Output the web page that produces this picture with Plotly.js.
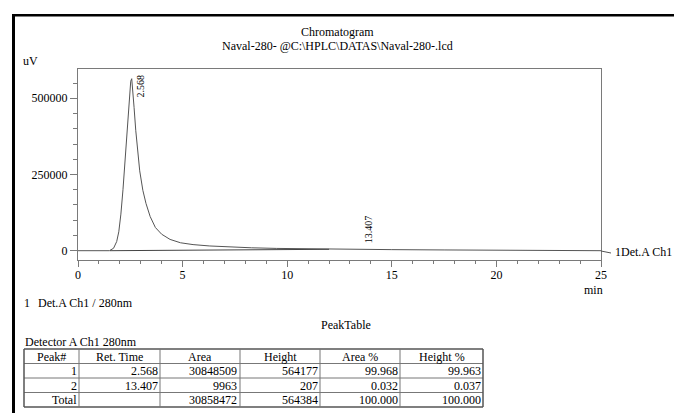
<!DOCTYPE html>
<html>
<head>
<meta charset="utf-8">
<script src="https://cdn.plot.ly/plotly-3.0.1.min.js"></script>
<style>
html,body{margin:0;padding:0;background:#fff;}
#chart{width:674px;height:413px;}
</style>
</head>
<body>
<div id="chart"></div>
<script>
// ---- data ----
const timeMin = [0, 1.0, 1.5, 1.7, 1.85, 1.95, 2.05, 2.15, 2.25, 2.35, 2.45, 2.52, 2.568, 2.62, 2.68, 2.76, 2.85, 2.95, 3.1, 3.25, 3.45, 3.7, 4.0, 4.4, 4.9, 5.5, 6.3, 7.2, 8.3, 9.5, 11.0, 12.5, 13.2, 13.407, 13.6, 15, 17.5, 20, 22.5, 25];
const signalUV = [0, 0, 0, 8000, 30000, 62000, 120000, 200000, 298000, 405000, 510000, 556000, 564177, 530000, 470000, 395000, 325000, 262000, 198000, 155000, 112000, 76000, 54000, 37000, 26000, 20000, 15500, 12000, 9500, 7500, 6000, 4800, 4400, 4600, 4350, 3500, 2500, 1500, 700, 0];
const baselineTime = [1.53, 12.0];
const baselineUV = [0, 4600];
const peakTimes = [2.568, 13.407];
const peakHeightsUV = [564177, 4600];
const peakLabels = ["2.568", "13.407"];

// ---- peak table ----
const tableHeader = ["Peak#", "Ret. Time", "Area", "Height", "Area %", "Height %"];
const colPeak = ["1", "2", "Total"];
const colRetTime = ["2.568", "13.407", ""];
const colArea = ["30848509", "9963", "30858472"];
const colHeight = ["564177", "207", "564384"];
const colAreaPct = ["99.968", "0.032", "100.000"];
const colHeightPct = ["99.963", "0.037", "100.000"];

const W = 674, H = 413;
const px = x => x / W;
const py = y => (H - y) / H;
const FONT = "Liberation Serif";
const AX = "#7a7a7a";

const traces = [
  {
    type: "scatter", mode: "lines", x: timeMin, y: signalUV,
    line: {color: "#555", width: 1}, hoverinfo: "skip", showlegend: false
  },
  {
    type: "scatter", mode: "lines", x: baselineTime, y: baselineUV,
    line: {color: "#444", width: 1}, hoverinfo: "skip", showlegend: false
  }
];

const ann = (text, x, y, xa, extra) => Object.assign({
  text: text, xref: "paper", yref: "paper", x: px(x), y: py(y),
  xanchor: xa || "center", yanchor: "middle", showarrow: false,
  font: {family: FONT, size: 12, color: "#000"}
}, extra || {});

const annotations = [
  ann("Chromatogram", 337, 32),
  ann("Naval-280- @C:\\HPLC\\DATAS\\Naval-280-.lcd", 337, 46),
  ann("uV", 21, 61, "left"),
  ann("min", 593, 290),
  ann("1Det.A Ch1", 613, 252, "left"),
  ann("1", 22, 303, "left"),
  ann("Det.A Ch1 / 280nm", 36, 303, "left"),
  ann("PeakTable", 346, 325),
  ann("Detector A Ch1 280nm", 23, 342, "left")
];
peakLabels.forEach((lab, i) => {
  annotations.push({
    text: lab, x: peakTimes[i], y: peakHeightsUV[i], xref: "x", yref: "y",
    textangle: -90, showarrow: false,
    xanchor: "left", yanchor: i === 0 ? "top" : "bottom",
    xshift: i === 0 ? 1 : 2, yshift: i === 0 ? 6 : 4,
    font: {family: FONT, size: 10, color: "#000"}
  });
});

const shapes = [
  {type: "rect", xref: "paper", yref: "paper", x0: px(12), x1: px(15), y0: py(413), y1: py(14),
   fillcolor: "#000", line: {width: 0}},
  {type: "rect", xref: "paper", yref: "paper", x0: px(12), x1: px(674), y0: py(16.5), y1: py(14),
   fillcolor: "#000", line: {width: 0}},
  {type: "line", xref: "paper", yref: "paper", x0: px(601), x1: px(611), y0: py(251), y1: py(253),
   line: {color: "#555", width: 1}}
];

// ---- peak table drawn with shapes + text ----
const colEdges = [24, 79, 160, 240, 320, 400, 483];
const rowEdges = [349, 363.5, 378, 392.5, 407];
const tableCols = [colPeak, colRetTime, colArea, colHeight, colAreaPct, colHeightPct];
rowEdges.forEach((ry, i) => {
  const outer = (i === 0 || i === rowEdges.length - 1);
  shapes.push({type: "line", xref: "paper", yref: "paper",
    x0: px(colEdges[0]), x1: px(colEdges[colEdges.length - 1]), y0: py(ry), y1: py(ry),
    line: {color: outer ? "#555" : "#777", width: outer ? 1.5 : 1}});
});
colEdges.forEach((cx, j) => {
  const outer = (j === 0 || j === colEdges.length - 1);
  shapes.push({type: "line", xref: "paper", yref: "paper",
    x0: px(cx), x1: px(cx), y0: py(rowEdges[0]), y1: py(rowEdges[rowEdges.length - 1]),
    line: {color: outer ? "#555" : "#777", width: outer ? 1.5 : 1}});
});
tableHeader.forEach((h, j) => {
  annotations.push(ann(h, (colEdges[j] + colEdges[j + 1]) / 2, (rowEdges[0] + rowEdges[1]) / 2 + 0.5,
    "center", {borderpad: 0}));
});
tableCols.forEach((col, j) => {
  col.forEach((v, r) => {
    if (v === "") return;
    annotations.push(ann(v, colEdges[j + 1] - 1.5, (rowEdges[r + 1] + rowEdges[r + 2]) / 2 + 0.5, "right",
      {borderpad: 0}));
  });
});

const layout = {
  width: W, height: H,
  margin: {l: 0, r: 0, t: 0, b: 0},
  paper_bgcolor: "#fff", plot_bgcolor: "#fff",
  showlegend: false,
  xaxis: {
    domain: [px(78), px(601)], range: [0, 25],
    showgrid: false, zeroline: false,
    showline: true, linecolor: AX, linewidth: 1, mirror: true,
    ticks: "outside", ticklen: 6, tickcolor: AX, tickwidth: 1,
    tick0: 0, dtick: 5, ticklabelstandoff: -2,
    minor: {ticks: "outside", dtick: 1, ticklen: 3, tickcolor: AX, showgrid: false},
    tickfont: {family: FONT, size: 12, color: "#000"}
  },
  yaxis: {
    domain: [py(260), py(69)], range: [-30500, 596000],
    showgrid: false, zeroline: false,
    showline: true, linecolor: AX, linewidth: 1, mirror: true,
    ticks: "outside", ticklen: 7, tickcolor: AX, tickwidth: 1,
    tick0: 0, dtick: 250000, tickformat: "d",
    minor: {ticks: "outside", dtick: 50000, ticklen: 4, tickcolor: AX, showgrid: false},
    tickfont: {family: FONT, size: 12, color: "#000"}
  },
  annotations: annotations,
  shapes: shapes
};

Plotly.newPlot("chart", traces, layout, {displayModeBar: false, staticPlot: true});
</script>
</body>
</html>
